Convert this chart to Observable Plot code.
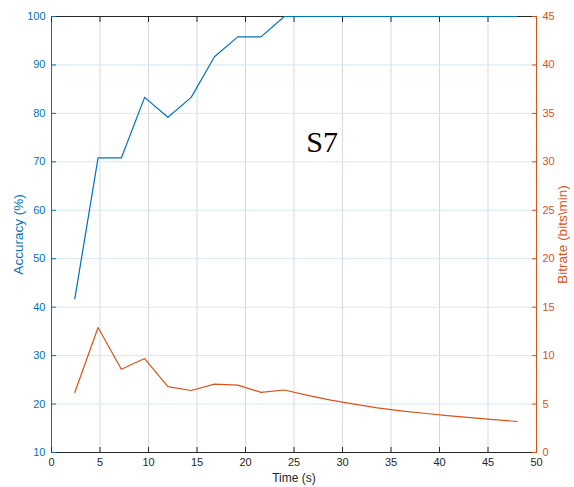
<!DOCTYPE html>
<html>
<head>
<meta charset="utf-8">
<script src="https://cdn.jsdelivr.net/npm/d3@7"></script>
<script src="https://cdn.jsdelivr.net/npm/@observablehq/plot@0.6"></script>
<style>
  html, body { margin: 0; padding: 0; background: #fff; }
  #chart { position: relative; width: 574px; height: 487px; }
  #chart svg { position: absolute; left: 0; top: 0; }
</style>
</head>
<body>
<div id="chart"></div>
<script>
// ---- data ----
const time = [2.4, 4.8, 7.2, 9.6, 12, 14.4, 16.8, 19.2, 21.6, 24, 26.4, 28.8, 31.2, 33.6, 36, 38.4, 40.8, 43.2, 45.6, 48];
const accuracy = [41.7, 70.8, 70.8, 83.3, 79.2, 83.3, 91.7, 95.8, 95.8, 100, 100, 100, 100, 100, 100, 100, 100, 100, 100, 100];
const bitrate = [6.2, 12.9, 8.6, 9.7, 6.8, 6.4, 7.05, 6.95, 6.2, 6.45, 5.9, 5.4, 5.0, 4.6, 4.3, 4.05, 3.8, 3.6, 3.4, 3.2];
const xTicks = [0, 5, 10, 15, 20, 25, 30, 35, 40, 45, 50];
const accTicks = [10, 20, 30, 40, 50, 60, 70, 80, 90, 100];
const bitTicks = [0, 5, 10, 15, 20, 25, 30, 35, 40, 45];
const annotation = [{label: "S7", x: 27.9, y: 72}];
const xLabel = "Time (s)";
const accLabel = "Accuracy (%)";
const bitLabel = "Bitrate (bits\\min)";

// ---- styling ----
const W = 574, H = 487;
const M = {marginLeft: 51, marginRight: 38, marginTop: 16, marginBottom: 35};
const blue = "#0072BD", orange = "#D95319", dark = "#262626";
const font = "'Liberation Sans', Arial, Helvetica, sans-serif";

const rowsA = time.map((t, i) => ({t, v: accuracy[i]}));
const rowsB = time.map((t, i) => ({t, v: bitrate[i]}));

const p1 = Plot.plot({
  width: W, height: H, ...M,
  style: {background: "transparent", fontFamily: font, fontSize: "11px", overflow: "visible"},
  x: {domain: [0, 50]},
  y: {domain: [10, 100]},
  marks: [
    Plot.gridX(xTicks.slice(1, -1), {stroke: "#d5dae0", strokeOpacity: 1}),
    Plot.gridY(accTicks.slice(1, -1), {stroke: "#d8e7f3", strokeOpacity: 1}),
    Plot.ruleY([10], {stroke: dark, strokeWidth: 1}),
    Plot.ruleY([100], {stroke: dark, strokeWidth: 1}),
    Plot.ruleX([0], {stroke: blue, strokeWidth: 1}),
    Plot.axisX(xTicks, {anchor: "bottom", tickSize: -5, tickPadding: 11, color: dark, label: null}),
    Plot.axisX(xTicks, {anchor: "top", tickSize: -5, tickFormat: () => "", color: dark, label: null}),
    Plot.axisY(accTicks, {anchor: "left", tickSize: -5, tickPadding: 11, color: blue, label: null}),
    Plot.line(rowsA, {x: "t", y: "v", stroke: blue, strokeWidth: 1.2}),
    Plot.text(annotation, {x: "x", y: "y", text: "label", fontFamily: "'Liberation Serif', 'Times New Roman', serif", fontSize: 30, fill: "black", textAnchor: "middle", lineAnchor: "bottom"}),
    Plot.text([xLabel], {text: d => d, frameAnchor: "bottom", dy: 26, lineAnchor: "middle", fontSize: 12, fill: dark}),
    Plot.text([accLabel], {text: d => d, frameAnchor: "left", dx: -32.5, rotate: -90, lineAnchor: "middle", textAnchor: "middle", fontSize: 13.5, fill: blue})
  ]
});

const p2 = Plot.plot({
  width: W, height: H, ...M,
  style: {background: "transparent", fontFamily: font, fontSize: "11px", overflow: "visible"},
  x: {domain: [0, 50], axis: null},
  y: {domain: [0, 45]},
  marks: [
    Plot.ruleX([50], {stroke: orange, strokeWidth: 1}),
    Plot.axisY(bitTicks, {anchor: "right", tickSize: -5, tickPadding: 11, color: orange, label: null}),
    Plot.line(rowsB, {x: "t", y: "v", stroke: orange, strokeWidth: 1.2}),
    Plot.text([bitLabel], {text: d => d, frameAnchor: "right", dx: 26, rotate: -90, lineAnchor: "middle", textAnchor: "middle", fontSize: 13.5, fill: orange})
  ]
});

const c = document.getElementById("chart");
c.appendChild(p1);
c.appendChild(p2);
</script>
</body>
</html>
